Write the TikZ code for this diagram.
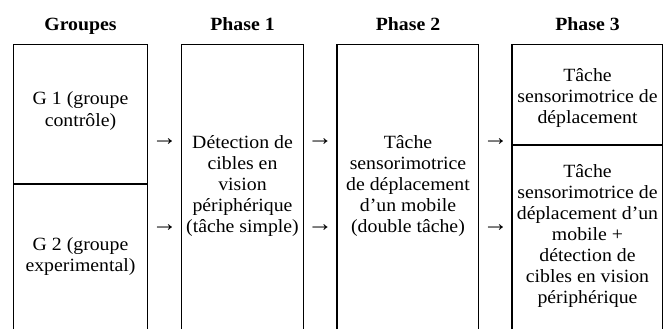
\documentclass[tikz,border=0pt]{standalone}
\usepackage{fontspec}
\setmainfont[FakeStretch=1.06]{Liberation Serif}
\usetikzlibrary{calc}

\begin{document}
\begin{tikzpicture}[x=0.75pt,y=-0.75pt,line width=0.8pt,
  every node/.style={align=center,inner sep=0pt,font=\fontsize{14}{15.8}\selectfont},
  head/.style={anchor=base,font=\fontsize{14}{15.8}\selectfont\bfseries},
  arrowsign/.style={font=\fontsize{18}{18}\selectfont}]
\useasboundingbox (0,0) rectangle (664,329);

% headers
\node[head] (hg) at (80.5,30) {Groupes};
\node[head] (h1) at (242.5,30) {Phase 1};
\node[head] (h2) at (408,30) {Phase 2};
\node[head] (h3) at (587.5,30) {Phase 3};

% open columns
\draw (13.3,329) -- (13.3,44.3) -- (147.7,44.3) -- (147.7,329);
\draw (13.3,184) -- (147.7,184);
\draw (181.7,329) -- (181.7,44.3) -- (303.3,44.3) -- (303.3,329);
\draw (337,329) -- (337,44.3) -- (478.7,44.3) -- (478.7,329);
\draw (512,329) -- (512,44.3) -- (662.7,44.3) -- (662.7,329);
\draw (512,145) -- (662.7,145);

% cells
\node (g1) at (80.5,111) {G 1 (groupe\\contrôle)};
\node (g2) at (80.5,256.5) {G 2 (groupe\\experimental)};
\node (p1) at (242.5,186) {Détection de\\cibles en\\vision\\périphérique\\(tâche simple)};
\node (p2) at (408,186) {Tâche\\sensorimotrice\\de déplacement\\d’un mobile\\(double tâche)};
\node (p3a) at (587.5,98) {Tâche\\sensorimotrice de\\déplacement};
\node (p3b) at (587.5,236) {Tâche\\sensorimotrice de\\déplacement d’un\\mobile +\\détection de\\cibles en vision\\périphérique};

% arrows between columns
\foreach \x/\n in {164.5/1,320/2,495.5/3} {
  \node[arrowsign] (up\n) at (\x,142) {→};
  \node[arrowsign] (dn\n) at (\x,228) {→};
}
\end{tikzpicture}
\end{document}
